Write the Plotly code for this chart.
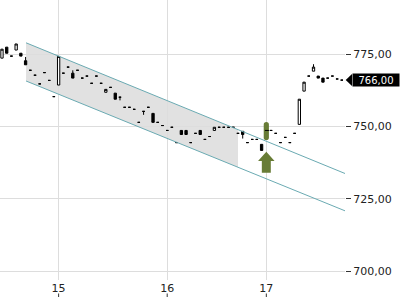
import plotly.graph_objects as go

# ---- data ----
open_ = [773.6, 777.4, 774.3, 776.4, 775.3, 772.7, 769.4, 767.7, 764.7, 768.6,
         765.9, 760.3, 764.3, 768.4, 770.5, 768.4, 769.4, 766.7, 767.4, 764.9,
         767.4, 764.9, 761.8, 763.5, 761.5, 760.1, 756.6, 756.6, 755.9, 751.4,
         755.2, 756.6, 754.5, 751.4, 750.3, 748.6, 749.7, 744.4, 748.6, 748.6,
         744.4, 747.6, 748.6, 745.5, 746.5, 748.6, 749.7, 749.7, 749.7, 749.7,
         747.6, 748.3, 744.4, 745.5, 745.5, 743.8, 748.6, 748.6, 747.6, 744.4,
         746.2, 744.4, 747.6, 750.7, 762.2, 767.4, 769.1, 767.4, 766.7, 766.7,
         767.4, 766.4, 766.0]
high = [776.7, 777.4, 774.3, 778.5, 775.3, 774.0, 769.4, 767.7, 764.7, 768.6,
        765.9, 760.3, 774.2, 768.4, 770.5, 769.4, 769.4, 766.7, 767.4, 764.9,
        767.4, 764.9, 762.8, 763.5, 761.5, 760.1, 756.6, 756.6, 755.9, 751.4,
        755.2, 756.6, 754.5, 751.4, 750.3, 748.6, 749.7, 744.4, 748.6, 748.6,
        744.4, 747.6, 748.6, 745.5, 746.5, 749.7, 749.7, 749.7, 749.7, 749.7,
        747.6, 748.3, 744.4, 745.5, 745.5, 743.8, 748.6, 748.6, 747.6, 744.4,
        746.2, 744.4, 747.6, 759.4, 765.3, 767.4, 771.5, 767.4, 766.7, 766.7,
        767.4, 766.4, 766.0]
low = [773.6, 775.3, 774.3, 776.4, 774.3, 771.3, 769.4, 767.7, 764.7, 768.6,
       765.9, 760.3, 764.3, 768.4, 770.5, 766.7, 769.4, 766.7, 767.4, 764.9,
       767.4, 764.9, 761.8, 763.5, 759.4, 759.0, 756.6, 756.6, 755.9, 751.4,
       754.0, 756.6, 751.4, 751.4, 750.3, 748.6, 749.7, 744.4, 747.2, 747.2,
       744.4, 747.6, 747.2, 745.5, 746.5, 748.6, 749.7, 749.7, 749.7, 749.7,
       747.6, 745.8, 744.4, 745.5, 745.5, 741.7, 748.6, 748.6, 747.6, 744.4,
       746.2, 744.4, 747.6, 750.7, 762.2, 767.4, 769.1, 766.7, 765.3, 766.7,
       767.4, 766.4, 766.0]
close = [776.7, 775.3, 774.3, 778.5, 774.3, 771.3, 769.4, 767.7, 764.7, 768.6,
         765.9, 760.3, 774.2, 768.4, 770.5, 766.7, 769.4, 766.7, 767.4, 764.9,
         767.4, 764.9, 762.8, 763.5, 759.4, 760.1, 756.6, 756.6, 755.9, 751.4,
         755.2, 756.6, 751.4, 751.4, 750.3, 748.6, 749.7, 744.4, 747.2, 747.2,
         744.4, 747.6, 747.2, 745.5, 746.5, 749.7, 749.7, 749.7, 749.7, 749.7,
         747.6, 747.2, 744.4, 745.5, 745.5, 741.7, 748.6, 748.6, 747.6, 744.4,
         746.2, 744.4, 747.6, 759.4, 765.3, 767.4, 770.5, 766.7, 765.3, 766.7,
         767.4, 766.4, 766.0]
idx = list(range(len(close)))

day_ticks = [12, 35, 56]
day_labels = ["15", "16", "17"]
y_ticks = [700, 725, 750, 775]

channel_x = [5.1, 72.7]
channel_upper = [778.9, 733.7]
channel_lower = [765.7, 720.8]
shade_end = 50

signal_idx = 56
signal_bar = [745.3, 751.5]
signal_arrow = [734.0, 738.0, 741.2]  # shaft bottom, head base, tip

last_price = 766.0

XR = [-0.42, 72.67]
YR = [696.9, 793.7]

TEAL = "#6aaab2"
GREEN = "#687c36"


def interp(xs, ys, x):
    return ys[0] + (ys[1] - ys[0]) * (x - xs[0]) / (xs[1] - xs[0])


fig = go.Figure()

fig.add_trace(go.Candlestick(
    x=idx, open=open_, high=high, low=low, close=close,
    increasing=dict(line=dict(color="#000000", width=1), fillcolor="#ffffff"),
    decreasing=dict(line=dict(color="#000000", width=1), fillcolor="#000000"),
    whiskerwidth=0, showlegend=False, hoverinfo="skip"))

for ys in (channel_upper, channel_lower):
    fig.add_trace(go.Scatter(x=channel_x, y=ys, mode="lines",
                             line=dict(color=TEAL, width=1), showlegend=False,
                             hoverinfo="skip"))

shapes = []
# shaded channel section
x0, x1 = channel_x[0], shade_end
path = (f"M {x0},{interp(channel_x, channel_upper, x0)} "
        f"L {x1},{interp(channel_x, channel_upper, x1)} "
        f"L {x1},{interp(channel_x, channel_lower, x1)} "
        f"L {x0},{interp(channel_x, channel_lower, x0)} Z")
shapes.append(dict(type="path", path=path, xref="x", yref="y", layer="below",
                   fillcolor="#e1e1e1", line=dict(width=0)))

# signal bar (rounded)
hw = 0.55
rv = 0.9
b0, b1 = signal_bar
s = signal_idx
bar_path = (f"M {s-hw},{b0+rv} L {s-hw},{b1-rv} Q {s-hw},{b1} {s},{b1} "
            f"Q {s+hw},{b1} {s+hw},{b1-rv} L {s+hw},{b0+rv} Q {s+hw},{b0} {s},{b0} "
            f"Q {s-hw},{b0} {s-hw},{b0+rv} Z")
shapes.append(dict(type="path", path=bar_path, xref="x", yref="y", layer="above",
                   fillcolor=GREEN, line=dict(width=0)))
# the signal candle's close, visible on top of the bar
shapes.append(dict(type="line", xref="x", yref="y", layer="above",
                   x0=s - 0.3, x1=s + 0.55, y0=close[s], y1=close[s],
                   line=dict(color="#000000", width=1)))

# signal arrow
a0, a1, a2 = signal_arrow
sw, hw2 = 0.95, 1.75
arrow_path = (f"M {s-sw},{a0} L {s-sw},{a1} L {s-hw2},{a1} L {s},{a2} "
              f"L {s+hw2},{a1} L {s+sw},{a1} L {s+sw},{a0} Z")
shapes.append(dict(type="path", path=arrow_path, xref="x", yref="y", layer="above",
                   fillcolor=GREEN, line=dict(width=0)))

# x tick marks below labels
H = 280.0
for t in day_ticks:
    px = (t - XR[0]) / (XR[1] - XR[0])
    shapes.append(dict(type="line", xref="paper", yref="paper", x0=px, x1=px,
                       y0=-(293.5 - H) / H, y1=-(297 - H) / H,
                       line=dict(color="#333333", width=1)))

# last price label pointer
W = 345.0
py = (last_price - YR[0]) / (YR[1] - YR[0])
dy = 6.0 / H
tip = 345.7 / W
base = 352.0 / W
shapes.append(dict(type="path", xref="paper", yref="paper",
                   path=f"M {tip},{py} L {base},{py+dy} L {base},{py-dy} Z",
                   fillcolor="#000000", line=dict(width=0)))

fig.add_annotation(xref="paper", yref="y", x=400.0 / W, y=last_price,
                   xanchor="right", yanchor="middle", showarrow=False,
                   text="766,00", bgcolor="#000000",
                   font=dict(family="DejaVu Sans", size=10, color="#ffffff"),
                   width=44, height=10, borderpad=1)

fig.update_layout(
    width=400, height=300,
    margin=dict(l=0, r=55, t=0, b=20),
    paper_bgcolor="#ffffff", plot_bgcolor="#ffffff",
    separators=",.",
    shapes=shapes,
    showlegend=False,
    font=dict(family="DejaVu Sans", size=11, color="#222222"),
    xaxis=dict(range=XR, tickmode="array", tickvals=day_ticks, ticktext=day_labels,
               showgrid=True, gridcolor="#dddddd", gridwidth=1, zeroline=False,
               showline=False, ticks="", rangeslider=dict(visible=False),
               fixedrange=True),
    yaxis=dict(range=YR, side="right", tickmode="array", tickvals=y_ticks,
               tickformat=".2f", showgrid=True, gridcolor="#dddddd", gridwidth=1,
               zeroline=False, showline=False, ticks="outside", ticklen=5,
               tickcolor="#333333", fixedrange=True),
)

fig.write_html("out.html")
